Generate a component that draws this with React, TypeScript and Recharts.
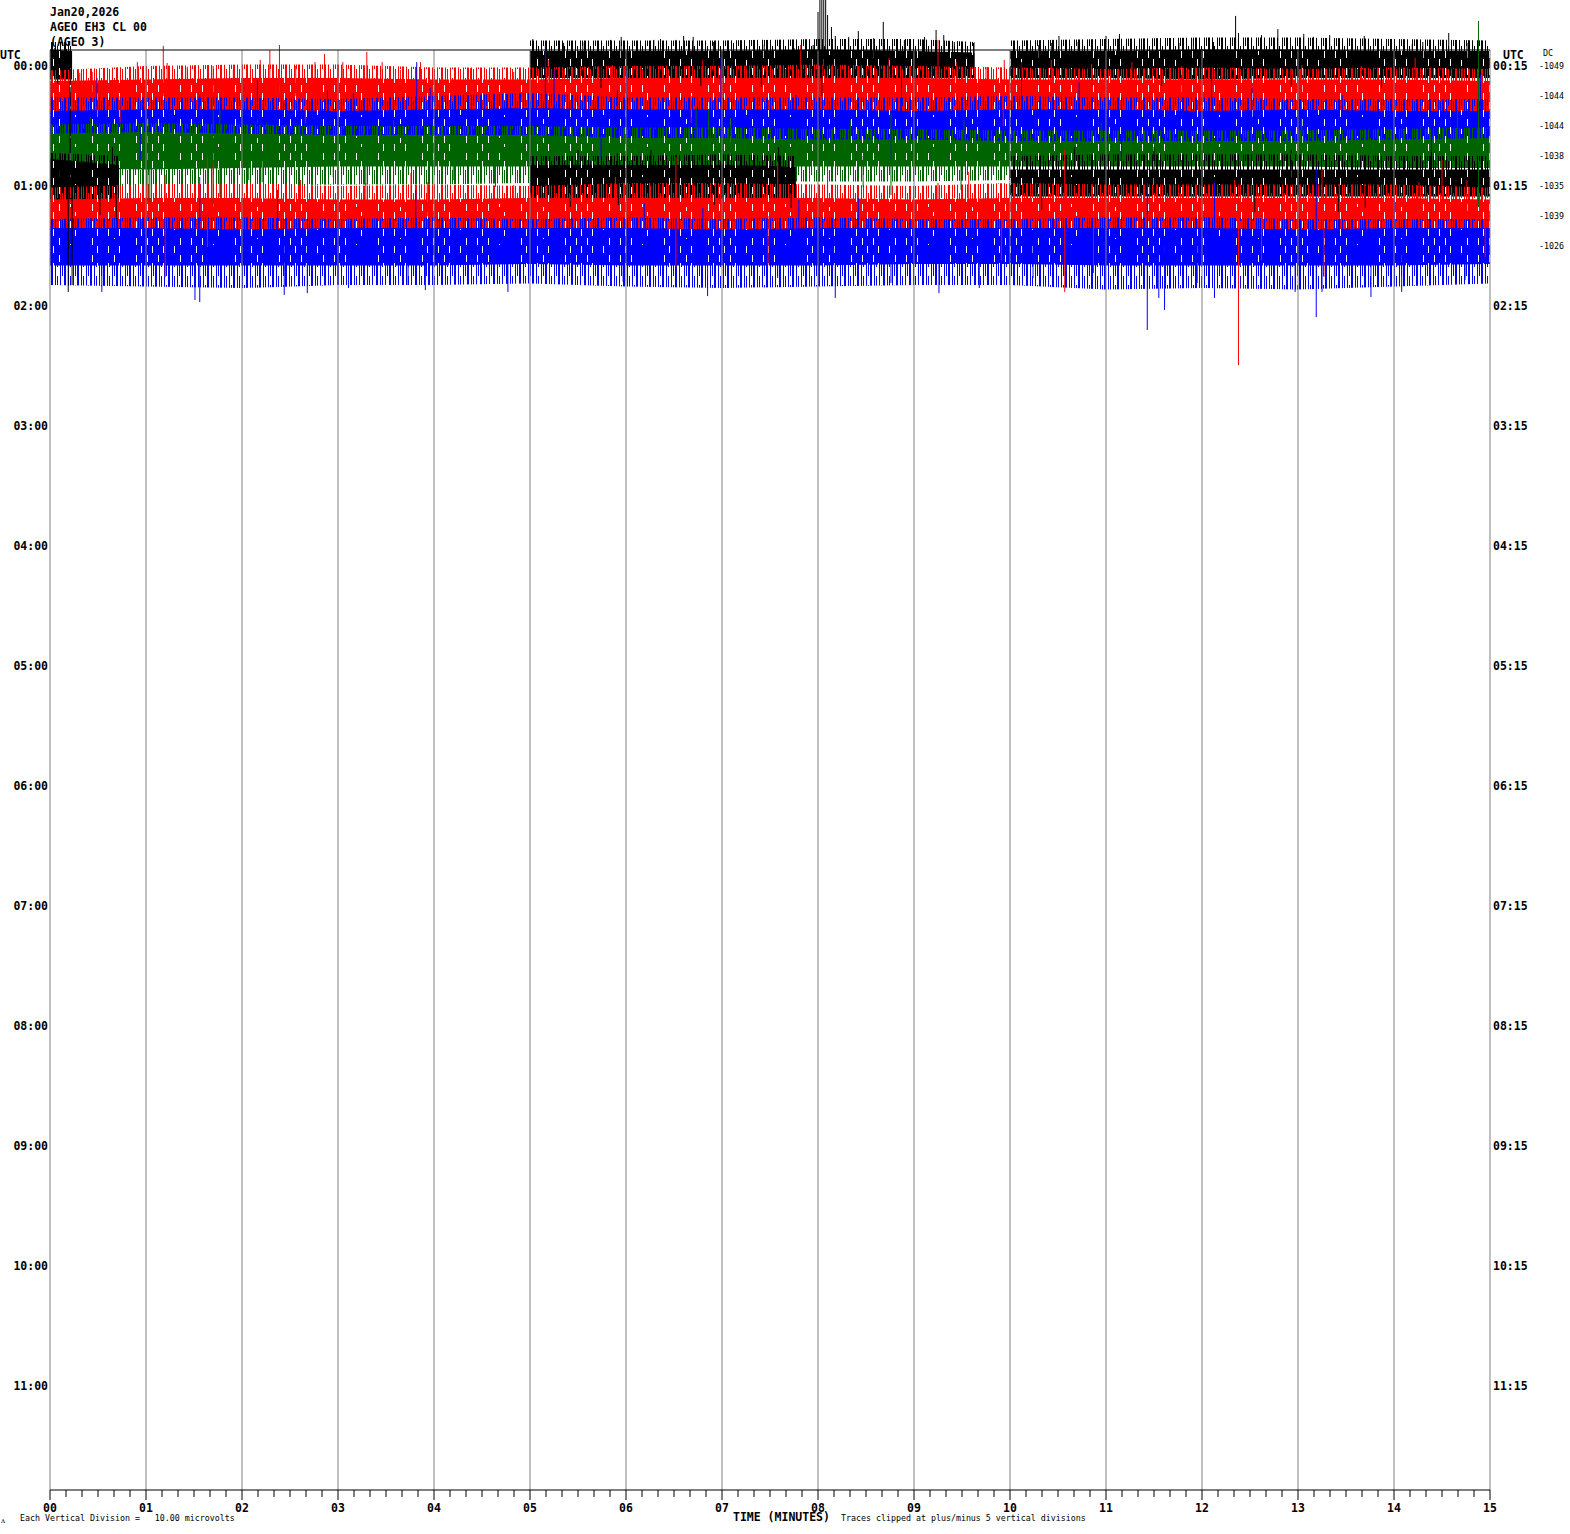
import { ComposedChart, Area, Scatter, ErrorBar, XAxis, YAxis, ReferenceLine } from 'recharts';

// helicorder layout: one row = one vertical division = 15 minutes of signal
const minuteLabels = ['00', '01', '02', '03', '04', '05', '06', '07', '08', '09', '10', '11', '12', '13', '14', '15'];
const leftHourLabels = ['00:00', '01:00', '02:00', '03:00', '04:00', '05:00', '06:00', '07:00', '08:00', '09:00', '10:00', '11:00'];
const rightHourLabels = ['00:15', '01:15', '02:15', '03:15', '04:15', '05:15', '06:15', '07:15', '08:15', '09:15', '10:15', '11:15'];
const dcValues = [-1049, -1044, -1044, -1038, -1035, -1039, -1026];
const traceColors = ['#000000', '#ff0000', '#0000ff', '#006400', '#000000', '#ff0000', '#0000ff'];

const minutes = [0, 1, 2, 3, 4, 5, 6, 7, 8, 9, 10, 11, 12, 13, 14, 15];

// sample times per trace (null = data gap)
const traceTimes: (number | null)[][] = [
  [0, 0.23, null, 5, 6, 7, 8, 9, 9.63, null, 10, 11, 12, 13, 14, 15],
  minutes,
  minutes,
  minutes,
  [0, 0.36, 0.72, null, 5, 6, 7, 7.77, null, 10, 11, 12, 13, 14, 15],
  minutes,
  minutes,
];

// dense part of each trace, in divisions from the row line
const coreHi: (number | null)[][] = [
  [0.55, 0.5, null, 0.5, 0.5, 0.5, 0.55, 0.5, 0.45, null, 0.5, 0.5, 0.55, 0.55, 0.5, 0.5],
  [0.5, 0.55, 0.6, 0.6, 0.55, 0.55, 0.6, 0.6, 0.6, 0.6, 0.55, 0.55, 0.55, 0.55, 0.55, 0.5],
  [0.5, 0.55, 0.55, 0.5, 0.55, 0.6, 0.55, 0.55, 0.55, 0.5, 0.55, 0.55, 0.5, 0.55, 0.5, 0.5],
  [0.75, 0.8, 0.75, 0.7, 0.7, 0.7, 0.6, 0.6, 0.55, 0.55, 0.5, 0.5, 0.5, 0.5, 0.55, 0.6],
  [0.9, 0.8, 0.7, null, 0.7, 0.7, 0.7, 0.65, null, 0.55, 0.55, 0.55, 0.55, 0.55, 0.55],
  [0.55, 0.6, 0.6, 0.55, 0.55, 0.6, 0.6, 0.6, 0.6, 0.55, 0.6, 0.6, 0.6, 0.6, 0.6, 0.55],
  [0.6, 0.6, 0.55, 0.6, 0.6, 0.6, 0.6, 0.55, 0.6, 0.6, 0.6, 0.6, 0.6, 0.55, 0.6, 0.6],
];
const coreLo: (number | null)[][] = [
  [-0.45, -0.45, null, -0.4, -0.4, -0.4, -0.45, -0.4, -0.4, null, -0.4, -0.4, -0.45, -0.4, -0.4, -0.4],
  [-0.5, -0.5, -0.55, -0.5, -0.5, -0.5, -0.5, -0.5, -0.55, -0.5, -0.5, -0.5, -0.5, -0.55, -0.5, -0.5],
  [-0.5, -0.5, -0.5, -0.5, -0.5, -0.55, -0.5, -0.5, -0.5, -0.5, -0.5, -0.5, -0.5, -0.5, -0.5, -0.5],
  [-0.4, -0.45, -0.4, -0.35, -0.35, -0.35, -0.35, -0.35, -0.35, -0.35, -0.35, -0.35, -0.35, -0.35, -0.4, -0.4],
  [-0.6, -0.6, -0.55, null, -0.4, -0.4, -0.4, -0.4, null, -0.35, -0.35, -0.35, -0.35, -0.35, -0.35],
  [-0.5, -0.55, -0.5, -0.5, -0.5, -0.5, -0.55, -0.55, -0.5, -0.5, -0.55, -0.55, -0.55, -0.5, -0.5, -0.5],
  [-0.65, -0.65, -0.65, -0.65, -0.65, -0.6, -0.65, -0.65, -0.65, -0.6, -0.6, -0.65, -0.65, -0.65, -0.65, -0.6],
];

// sparse fringe of spikes around the core
const outerHi: (number | null)[][] = [
  [0.8, 0.8, null, 0.85, 0.85, 0.85, 0.9, 0.9, 0.8, null, 0.85, 0.9, 0.95, 0.95, 0.9, 0.85],
  [0.85, 1.0, 1.05, 1.05, 0.95, 0.95, 1.0, 1.0, 1.05, 1.0, 0.95, 0.9, 0.95, 0.9, 0.95, 0.9],
  [0.95, 0.95, 0.95, 0.9, 1.0, 1.1, 0.95, 0.95, 0.95, 0.95, 1.0, 0.95, 0.95, 0.9, 0.9, 0.9],
  [1.05, 1.1, 1.05, 1.0, 1.0, 1.0, 0.95, 0.95, 0.9, 0.9, 0.85, 0.85, 0.85, 0.85, 0.9, 0.95],
  [1.1, 1.05, 1.0, null, 1.0, 1.0, 1.05, 1.0, null, 1.0, 1.05, 1.05, 1.05, 1.0, 1.0],
  [0.95, 1.05, 1.1, 1.0, 1.05, 1.0, 1.1, 1.1, 1.05, 1.0, 1.1, 1.05, 1.05, 1.05, 1.05, 0.95],
  [0.9, 0.95, 0.95, 0.9, 0.95, 0.9, 0.95, 0.9, 0.95, 0.9, 0.9, 0.95, 0.95, 0.9, 0.9, 0.9],
];
const outerLo: (number | null)[][] = [
  [-0.65, -0.65, null, -0.65, -0.65, -0.65, -0.7, -0.65, -0.6, null, -0.65, -0.65, -0.7, -0.7, -0.65, -0.65],
  [-0.8, -0.8, -0.85, -0.8, -0.8, -0.8, -0.85, -0.8, -0.8, -0.8, -0.85, -0.8, -0.8, -0.8, -0.8, -0.8],
  [-0.85, -0.9, -0.85, -0.85, -0.85, -0.9, -0.85, -0.85, -0.9, -0.85, -0.85, -0.9, -0.85, -0.85, -0.85, -0.85],
  [-1.0, -1.05, -1.0, -0.95, -0.95, -0.9, -0.85, -0.85, -0.85, -0.85, -0.8, -0.8, -0.8, -0.8, -0.85, -0.9],
  [-0.9, -0.9, -0.85, null, -0.65, -0.65, -0.65, -0.65, null, -0.75, -0.75, -0.8, -0.8, -0.75, -0.75],
  [-0.85, -0.9, -0.85, -0.85, -0.85, -0.85, -0.9, -0.9, -0.85, -0.85, -0.9, -0.9, -0.85, -0.85, -0.85, -0.85],
  [-1.3, -1.35, -1.4, -1.3, -1.3, -1.25, -1.35, -1.4, -1.35, -1.3, -1.3, -1.45, -1.4, -1.45, -1.35, -1.25],
];

// single large excursions: [minute, divisions] (positive = up)
const spikes: [number, number][][] = [
  [
    [0.05, 0.6], [0.08, -0.6], [0.17, 0.57], [0.21, -0.63],
    [5.03, 0.9], [5.35, 0.77], [5.55, 0.8], [5.74, -0.73], [5.84, 0.87], [5.95, 0.97], [6.29, 0.87], [6.36, 0.9],
    [6.52, 0.87], [6.6, 1.0], [6.7, 0.97], [6.78, -0.67], [6.91, 0.8], [7.12, 0.77], [7.41, -0.7], [7.44, 0.7],
    [7.75, 0.6], [7.95, 0.7], [8.0, 1.8], [8.02, 2.2], [8.04, 2.2], [8.04, -1.0], [8.06, 2.2], [8.08, 2.2],
    [8.1, 1.7], [8.14, 1.3], [8.18, 1.0], [8.32, 0.97], [8.42, 1.17], [8.58, 0.93], [8.68, 1.47], [8.87, -0.8],
    [8.9, 0.87], [9.11, 0.97], [9.23, 1.2], [9.31, 1.03], [9.42, 0.8], [9.62, 0.77],
    [10.3, 0.7], [10.43, 0.77], [10.51, 1.0], [10.71, 0.8], [10.85, -0.7], [11.0, 1.0], [11.14, 1.07], [11.37, 0.87],
    [11.58, -0.67], [11.76, 0.77], [11.91, 0.9], [12.12, 0.8], [12.35, 1.67], [12.38, 1.1], [12.62, 1.03], [12.79, 1.23],
    [12.93, -0.7], [13.06, 1.07], [13.16, 0.97], [13.33, 1.03], [13.56, 0.87], [13.69, 1.0], [13.87, -0.73], [14.19, 0.73],
    [14.3, 0.8], [14.57, 1.1], [14.76, 0.77],
  ],
  [
    [0.31, 0.77], [0.44, 0.8], [0.65, 0.87], [0.73, -0.87], [0.91, 1.13], [1.18, 1.67], [1.22, 1.1], [1.43, 0.97],
    [1.7, 1.0], [1.91, 0.87], [2.19, 1.2], [2.29, 1.53], [2.39, 1.7], [2.56, 1.0], [2.66, -0.9], [2.76, 1.13],
    [2.86, 1.4], [3.05, 1.13], [3.3, 1.47], [3.46, 1.13], [3.65, 0.87], [3.86, 1.13], [4.38, 0.93], [4.83, 0.8],
    [5.19, 1.2], [5.86, 1.03], [6.68, -0.9], [6.8, 1.2], [7.25, 1.03], [7.82, 1.7], [8.43, 1.0], [8.74, 1.27],
    [9.25, 1.87], [9.44, 1.13], [9.75, 0.97], [9.93, -1.0], [9.94, 1.2], [10.43, 1.2], [10.85, 1.07], [11.27, 1.13],
    [11.79, 1.0], [12.49, 0.93], [13.04, 1.03], [13.66, 1.0], [14.22, 1.27], [14.71, 0.93],
  ],
  [
    [0.49, 1.6], [0.94, -1.13], [1.56, 1.03], [2.16, 1.53], [2.89, 1.2], [3.16, 1.1], [3.82, 2.13], [3.96, 1.27],
    [5.16, 2.7], [5.25, 1.87], [5.74, -1.07], [5.91, 1.2], [6.0, 1.87], [6.99, 2.3], [7.77, 1.03], [8.76, -1.13],
    [8.87, 1.27], [10.12, 2.13], [10.72, 1.47], [11.16, -1.2], [12.1, 1.87], [12.52, 1.27], [13.46, 1.03],
    [14.39, -1.13], [14.9, 1.7],
  ],
  [
    [0.42, 1.3], [1.02, 1.27], [1.02, -1.47], [1.04, -1.57], [1.64, -1.37], [1.7, 1.93], [1.7, -1.57], [1.77, -1.37],
    [1.77, 1.53], [2.07, -0.8], [2.21, -0.87], [2.26, 1.13], [2.95, -0.7], [3.29, -0.97], [3.58, 1.2], [4.2, -0.8],
    [4.64, -1.03], [6.73, 1.63], [6.86, 1.53], [7.09, 1.27], [8.34, 1.2], [8.47, -1.03], [8.76, 1.43], [8.76, -1.3],
    [9.49, -1.13], [9.52, 1.2], [10.95, 1.13], [13.04, 1.27], [14.66, 1.53], [14.88, 4.5], [14.88, -1.7],
  ],
  [
    [0.1, 1.1], [0.19, -3.53], [0.21, 3.3], [0.23, -3.3], [0.4, 0.87], [0.52, -0.97], [0.65, 1.3], [0.69, -1.1],
    [5.42, -0.7], [5.5, 1.2], [5.91, 1.1], [5.92, -0.63], [6.26, 1.2], [6.71, 1.03], [6.92, -0.63], [7.59, 1.3],
    [7.72, -0.73],
    [10.33, -0.8], [10.67, 1.3], [11.5, 1.3], [12.0, 1.2], [12.55, -0.87], [12.93, 1.2], [13.42, -0.87], [13.7, -0.73],
    [14.39, 1.13],
  ],
  [
    [1.2, 1.37], [1.2, -2.03], [1.64, 1.97], [1.64, -1.03], [1.7, 1.77], [2.61, 1.2], [3.29, 1.1], [3.76, 1.43],
    [3.93, 1.13], [4.83, 1.03], [5.89, 1.3], [6.52, 1.97], [6.52, -1.7], [7.48, -1.63], [7.58, 1.77], [8.1, 1.53],
    [9.25, 1.1], [9.57, 1.47], [9.91, -1.47], [10.57, 2.2], [10.57, -2.53], [10.87, -1.9], [12.34, 1.2], [12.38, -4.97],
    [12.62, -1.47], [13.25, 1.53], [13.27, -2.03], [14.26, 1.13], [14.5, 1.87], [14.76, 1.2], [14.95, -1.37],
  ],
  [
    [0.02, -1.07], [0.54, -1.53], [1.51, -1.8], [1.56, -1.87], [1.56, 2.3], [2.37, 1.87], [2.44, -1.63], [2.68, -1.57],
    [3.11, -1.4], [3.73, -1.3], [3.81, 1.87], [3.91, -1.47], [4.77, -1.53], [5.03, -1.03], [5.97, -1.2], [6.19, 1.43],
    [6.8, 1.27], [6.85, -1.67], [7.58, -1.07], [7.8, 1.53], [8.18, -1.73], [8.42, 1.6], [8.76, -1.23], [9.26, -1.57],
    [9.68, -1.4], [10.24, -1.07], [11.43, -2.8], [11.43, 2.1], [11.55, -1.73], [11.61, -2.13], [11.95, -1.23],
    [12.13, -1.73], [12.13, 2.13], [12.97, -1.53], [13.19, -2.37], [13.19, 2.63], [13.25, -1.53], [13.76, -1.7],
    [14.0, 1.53], [14.08, -1.53], [14.74, -1.13],
  ],
];

// plot geometry (value units = divisions, row n sits at -n)
const Y_TOP = 2.2;
const Y_BOTTOM = -47.4667;
const Y_BORDER = 0.5333;
const ROWS_PER_HOUR = 4;
const TICKS_PER_MINUTE = 6;

const bigFont = { fontFamily: '"DejaVu Sans Mono", monospace', fontWeight: 'bold' as const, fontSize: 11.5 };
const smallFont = { fontFamily: '"DejaVu Sans Mono", monospace', fontSize: 8.3 };

const minorTicks = Array.from({ length: (minutes.length - 1) * TICKS_PER_MINUTE + 1 }, (_, k) => k / TICKS_PER_MINUTE);
const hourTicks = leftHourLabels.map((_, h) => -h * ROWS_PER_HOUR);
const dcTicks = dcValues.map((_, r) => -r);
const rightTicks = Array.from(new Set([...hourTicks, ...dcTicks])).sort((a, b) => b - a);

function buildSegments(row: number) {
  const segs: { t: number; core: number[]; outer: number[] }[][] = [];
  let cur: { t: number; core: number[]; outer: number[] }[] = [];
  traceTimes[row].forEach((t, i) => {
    if (t === null) {
      if (cur.length) segs.push(cur);
      cur = [];
      return;
    }
    cur.push({
      t,
      core: [-row + (coreLo[row][i] as number), -row + (coreHi[row][i] as number)],
      outer: [-row + (outerLo[row][i] as number), -row + (outerHi[row][i] as number)],
    });
  });
  if (cur.length) segs.push(cur);
  return segs;
}

function buildSpikes(row: number) {
  return spikes[row].map(([t, v]) => ({ t, y: -row, err: v > 0 ? [0, v] : [-v, 0] }));
}

const MinuteTick = (props: any) => {
  const { x, y, payload } = props;
  const v = payload.value;
  const major = Math.abs(v - Math.round(v)) < 1e-6;
  return (
    <g>
      <line x1={x} x2={x} y1={y} y2={y + (major ? 10 : 7)} stroke="#000" strokeWidth={1} />
      {major && (
        <text x={x} y={y + 22} textAnchor="middle" style={bigFont} fill="#000">
          {minuteLabels[Math.round(v)]}
        </text>
      )}
    </g>
  );
};

const LeftTick = (props: any) => (
  <text x={props.x - 2} y={props.y + 4} textAnchor="end" style={bigFont} fill="#000">
    {leftHourLabels[props.index]}
  </text>
);

// right side: hour label next to the plot, DC offset further out
const RightTick = (props: any) => {
  const row = Math.round(-props.payload.value);
  const isHour = row % ROWS_PER_HOUR === 0;
  return (
    <g>
      {isHour && (
        <text x={props.x + 3} y={props.y + 4} textAnchor="start" style={bigFont} fill="#000">
          {rightHourLabels[row / ROWS_PER_HOUR]}
        </text>
      )}
      {row < dcValues.length && (
        <text x={props.x + 49} y={props.y + 3} textAnchor="start" style={smallFont} fill="#000">
          {dcValues[row]}
        </text>
      )}
    </g>
  );
};

const Label = ({ left, cy, text, small }: { left: number; cy: number; text: string; small?: boolean }) => (
  <div
    style={{
      position: 'absolute',
      left,
      top: cy - 7,
      height: 14,
      lineHeight: '14px',
      whiteSpace: 'pre',
      color: '#000',
      ...(small ? smallFont : bigFont),
    }}
  >
    {text}
  </div>
);

export default function App() {
  return (
    <div style={{ position: 'absolute', left: 0, top: 0, width: 1570, height: 1534, background: '#fff' }}>
      <svg width={0} height={0} style={{ position: 'absolute' }}>
        <defs>
          {traceColors.map((c, i) => (
            <pattern key={`f${i}`} id={`fringe-${i}`} patternUnits="userSpaceOnUse" width={13} height={23}>
              <rect x={0} y={0} width={1} height={23} fill={c} />
              <rect x={3} y={0} width={1} height={23} fill={c} />
              <rect x={5} y={0} width={1} height={14} fill={c} />
              <rect x={8} y={0} width={1} height={23} fill={c} />
              <rect x={10} y={9} width={1} height={14} fill={c} />
              <rect x={12} y={0} width={1} height={23} fill={c} />
            </pattern>
          ))}
          {traceColors.map((c, i) => (
            <pattern key={`c${i}`} id={`core-${i}`} patternUnits="userSpaceOnUse" width={11} height={17}>
              <rect x={0} y={0} width={4} height={17} fill={c} />
              <rect x={4} y={7} width={1} height={10} fill={c} />
              <rect x={5} y={0} width={4} height={17} fill={c} />
              <rect x={9} y={0} width={1} height={8} fill={c} />
              <rect x={9} y={15} width={1} height={2} fill={c} />
              <rect x={10} y={0} width={1} height={17} fill={c} />
            </pattern>
          ))}
        </defs>
      </svg>
      <ComposedChart width={1570} height={1534} margin={{ top: 0, right: 0, bottom: 0, left: 0 }}>
        <XAxis
          dataKey="t"
          type="number"
          domain={[0, 15]}
          allowDataOverflow
          ticks={minorTicks}
          interval={0}
          tickSize={0}
          tickMargin={0}
          tickLine={false}
          axisLine={{ stroke: '#000', strokeWidth: 1 }}
          tick={<MinuteTick />}
          height={44}
        />
        <YAxis
          yAxisId="left"
          type="number"
          domain={[Y_BOTTOM, Y_TOP]}
          allowDataOverflow
          ticks={hourTicks}
          interval={0}
          tickSize={0}
          tickMargin={0}
          tickLine={false}
          axisLine={false}
          tick={<LeftTick />}
          width={50}
        />
        <YAxis
          yAxisId="right"
          orientation="right"
          type="number"
          domain={[Y_BOTTOM, Y_TOP]}
          allowDataOverflow
          ticks={rightTicks}
          interval={0}
          tickSize={0}
          tickMargin={0}
          tickLine={false}
          axisLine={false}
          tick={<RightTick />}
          width={80}
        />

        {traceColors.map((color, row) => [
          ...buildSegments(row).map((seg, s) => (
            <Area
              key={`o-${row}-${s}`}
              yAxisId="left"
              data={seg}
              dataKey="outer"
              type="linear"
              stroke="none"
              fill={`url(#fringe-${row})`}
              fillOpacity={1}
              isAnimationActive={false}
              dot={false}
              activeDot={false}
            />
          )),
          ...buildSegments(row).map((seg, s) => (
            <Area
              key={`c-${row}-${s}`}
              yAxisId="left"
              data={seg}
              dataKey="core"
              type="linear"
              stroke="none"
              fill={`url(#core-${row})`}
              fillOpacity={1}
              isAnimationActive={false}
              dot={false}
              activeDot={false}
            />
          )),
          <Scatter
            key={`s-${row}`}
            yAxisId="left"
            data={buildSpikes(row)}
            dataKey="y"
            shape={() => <g />}
            isAnimationActive={false}
          >
            <ErrorBar dataKey="err" direction="y" width={0} stroke={color} strokeWidth={1} isAnimationActive={false} />
          </Scatter>,
        ])}

        {minutes.map((m) => (
          <ReferenceLine
            key={`g-${m}`}
            yAxisId="left"
            segment={[{ x: m, y: Y_BORDER }, { x: m, y: Y_BOTTOM }]}
            stroke="#808080"
            strokeWidth={1}
          />
        ))}
        <ReferenceLine
          yAxisId="left"
          segment={[{ x: 0, y: Y_BORDER }, { x: 15, y: Y_BORDER }]}
          stroke="#000"
          strokeWidth={1}
        />
      </ComposedChart>

      <Label left={50} cy={12} text="Jan20,2026" />
      <Label left={50} cy={27} text="AGEO EH3 CL 00" />
      <Label left={50} cy={42} text="(AGEO 3)" />
      <Label left={0} cy={55} text="UTC" />
      <Label left={1503} cy={55} text="UTC" />
      <Label left={1543} cy={53} text="DC" small />
      <Label left={1} cy={1520} text="ᴧ" small />
      <Label left={20} cy={1518} text="Each Vertical Division =   10.00 microvolts" small />
      <Label left={733} cy={1517} text="TIME (MINUTES)" />
      <Label left={841} cy={1518} text="Traces clipped at plus/minus 5 vertical divisions" small />
    </div>
  );
}
